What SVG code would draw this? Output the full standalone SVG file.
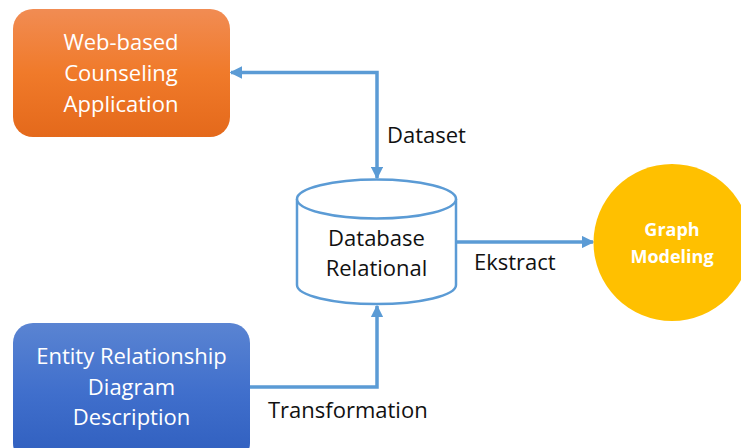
<svg xmlns="http://www.w3.org/2000/svg" width="741" height="448" viewBox="0 0 741 448">
  <defs>
    <linearGradient id="gradOrange" x1="0" y1="0" x2="0" y2="1">
      <stop offset="0" stop-color="#F18C53"/>
      <stop offset="0.5" stop-color="#F07A2A"/>
      <stop offset="1" stop-color="#E4691B"/>
    </linearGradient>
    <linearGradient id="gradBlue" x1="0" y1="0" x2="0" y2="1">
      <stop offset="0" stop-color="#5A84D2"/>
      <stop offset="0.5" stop-color="#406FCC"/>
      <stop offset="1" stop-color="#2F5EBE"/>
    </linearGradient>
    <marker id="arrow" viewBox="0 0 10 10" refX="9" refY="5" markerWidth="3.6" markerHeight="3.6" orient="auto-start-reverse" markerUnits="strokeWidth">
      <path d="M0,0 L10,5 L0,10 z" fill="#5B9BD5"/>
    </marker>
    <style>
      .box-text { font-family: "Open Sans", "Liberation Sans", sans-serif; font-size: 22px; fill: #FFFFFF; text-anchor: middle; }
      .label { font-family: "Open Sans", "Liberation Sans", sans-serif; font-size: 22px; fill: #111111; }
      .db-text { font-family: "Open Sans", "Liberation Sans", sans-serif; font-size: 22px; fill: #111111; text-anchor: middle; }
      .graph-text { font-family: "Open Sans", "Liberation Sans", sans-serif; font-size: 18px; font-weight: bold; fill: #FFFFFF; text-anchor: middle; }
      .conn { fill: none; stroke: #5B9BD5; stroke-width: 3.5; }
      .cyl { fill: #FFFFFF; stroke: #5B9BD5; stroke-width: 2.5; }
    </style>
  </defs>

  <rect width="741" height="448" fill="#FFFFFF"/>

  <!-- connectors -->
  <g id="connectors">
    <path class="conn" d="M 231 72.5 H 377 V 178" marker-start="url(#arrow)" marker-end="url(#arrow)"/>
    <path class="conn" d="M 456 242 H 593" marker-end="url(#arrow)"/>
    <path class="conn" d="M 250 387 H 377 V 306" marker-end="url(#arrow)"/>
    <text class="label" x="387" y="143">Dataset</text>
    <text class="label" x="474" y="270">Ekstract</text>
    <text class="label" x="268" y="418">Transformation</text>
  </g>

  <!-- web application -->
  <g id="web-app">
    <rect x="13" y="9" width="217" height="128" rx="20" ry="20" fill="url(#gradOrange)"/>
    <text class="box-text" x="121" y="50">Web-based</text>
    <text class="box-text" x="121" y="81">Counseling</text>
    <text class="box-text" x="121" y="112">Application</text>
  </g>

  <!-- relational database -->
  <g id="database">
    <path class="cyl" d="M 297 199 V 285 A 79.5 19 0 0 0 456 285 V 199"/>
    <ellipse class="cyl" cx="376.5" cy="199" rx="79.5" ry="19.5"/>
    <text class="db-text" x="376.5" y="246">Database</text>
    <text class="db-text" x="376.5" y="276">Relational</text>
  </g>

  <!-- graph modeling -->
  <g id="graph-modeling">
    <circle cx="672" cy="242.5" r="78.5" fill="#FFC000"/>
    <text class="graph-text" x="672" y="236">Graph</text>
    <text class="graph-text" x="672" y="263">Modeling</text>
  </g>

  <!-- ER diagram description -->
  <g id="erd-description">
    <rect x="13" y="323" width="237" height="140" rx="20" ry="20" fill="url(#gradBlue)"/>
    <text class="box-text" x="131.5" y="364">Entity Relationship</text>
    <text class="box-text" x="131.5" y="395">Diagram</text>
    <text class="box-text" x="131.5" y="425">Description</text>
  </g>
</svg>
